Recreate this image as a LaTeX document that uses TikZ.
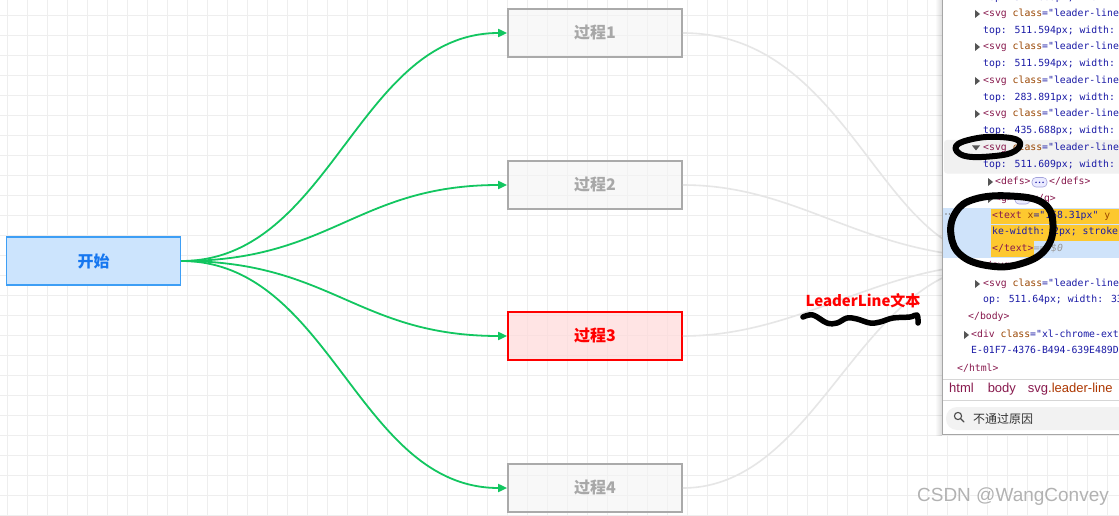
\documentclass[tikz,border=0pt]{standalone}
\usepackage{fontspec}
\setmainfont{Liberation Sans}
\newfontfamily\cjk{Noto Sans CJK SC}
\newfontfamily\mono{DejaVu Sans Mono}
\usetikzlibrary{arrows.meta}
\definecolor{gridc}{HTML}{EEEEEE}
\definecolor{startfill}{HTML}{CCE4FD}
\definecolor{startborder}{HTML}{3D9EF5}
\definecolor{starttext}{HTML}{1677F0}
\definecolor{grayfill}{HTML}{F4F4F4}
\definecolor{grayborder}{HTML}{AAAAAA}
\definecolor{graytext}{HTML}{A8A8A8}
\definecolor{redfill}{HTML}{FFD9D9}
\definecolor{redc}{HTML}{FF0000}
\definecolor{greenc}{HTML}{12C660}
\definecolor{lightc}{HTML}{E6E6E6}
\definecolor{tagc}{HTML}{881A4E}
\definecolor{attrc}{HTML}{994500}
\definecolor{valc}{HTML}{1A1AA6}
\definecolor{selblue}{HTML}{CFE3FA}
\definecolor{selyellow}{HTML}{FDC82F}
\definecolor{rowgray}{HTML}{F1F1F1}
\definecolor{tric}{HTML}{555555}
\newcommand\ctag[1]{\textcolor{tagc}{#1}}
\newcommand\cattr[1]{\textcolor{attrc}{#1}}
\newcommand\cval[1]{\textcolor{valc}{#1}}
\newcommand\svgrow{\ctag{<svg} \cattr{class}\cval{="leader-line}}
\newcommand\rtri[2]{\fill[tric] (#1,#2-4) -- (#1+5,#2) -- (#1,#2+4) -- cycle;}
\newcommand\dtri[2]{\fill[tric] (#1,#2-2.5) -- (#1+8,#2-2.5) -- (#1+4,#2+2.5) -- cycle;}
\begin{document}
\begin{tikzpicture}[x=1pt,y=-1pt,
  gridline/.style={draw=gridc, line width=0.8pt},
  box/.style={draw, line width=1.7pt, minimum width=174pt, minimum height=47.5pt, inner sep=0pt,
    font=\cjk\bfseries\fontsize{16}{18}\selectfont},
  startbox/.style={box, draw=startborder, fill=startfill, text=starttext},
  graybox/.style={box, draw=grayborder, fill=grayfill, fill opacity=0.6, text opacity=1, text=graytext},
  redbox/.style={box, draw=redc, fill=redfill, fill opacity=0.7, text opacity=1, text=redc},
  greenline/.style={draw=greenc, line width=1.8pt, -{Triangle[length=9pt,width=8pt]}},
  lightline/.style={draw=lightc, line width=1.6pt},
  code/.style={anchor=west, inner sep=0pt, text height=7pt, text depth=2pt, font=\mono\fontsize{9.8}{12}\selectfont},
  scribble/.style={draw=black, line width=6pt, line cap=round, line join=round},
  pill/.style={draw=valc!40, fill=blue!8, rounded corners=4pt, line width=0.6pt}
]
\useasboundingbox (0,0) rectangle (1119,516);
\fill[white] (0,0) rectangle (1119,516);
% grid
\foreach \x in {7,27,...,1119} \draw[gridline] (\x,0) -- (\x,516);
\foreach \y in {15,35,...,516} \draw[gridline] (0,\y) -- (1119,\y);

% nodes
\node[startbox] (start) at (93.5,261) {开始};
\node[graybox] (p1) at (595,33) {过程1};
\node[graybox] (p2) at (595,185) {过程2};
\node[redbox]  (p3) at (595,336) {过程3};
\node[graybox] (p4) at (595,488) {过程4};

% light curves towards the devtools panel
\coordinate (e1) at (1000,258);
\coordinate (e2) at (1000,264);
\draw[lightline] (p1.east) .. controls (850,33) and (880,258) .. (e1);
\draw[lightline] (p2.east) .. controls (800,185) and (860,255) .. (e1);
\draw[lightline] (p3.east) .. controls (800,336) and (880,264) .. (e2);
\draw[lightline] (p4.east) .. controls (820,488) and (860,264) .. (e2);

% green curves
\foreach \p in {p1,p2,p3,p4}
  \draw[greenline] (start.east) .. controls +(150,0) and +(-150,0) .. (\p.west);

% label and scribble
\node[text=redc, font=\cjk\bfseries\fontsize{15}{17}\selectfont, inner sep=0pt] (lbl) at (863,301) {LeaderLine文本};
\draw[scribble, line width=5.5pt] plot[smooth, tension=0.6] coordinates {(803,317) (813,315) (827,323) (837,323) (847,318) (857,319) (870,323) (880,322) (893,318) (910,317) (917,315) (918,323)};

% devtools panel
\foreach \i in {1,...,6} \fill[black, opacity=0.02] (942-\i,0) rectangle (942,435.5);
\begin{scope}
\fill[white] (942,0) rectangle (1119,434);
\clip (942,0) rectangle (1119,434);
\fill[rowgray, rounded corners=3pt] (944,140) rectangle (1130,173.5);
\fill[selblue] (943,208) rectangle (1119,258);
\fill[selyellow] (991,208.5) rectangle (1119,224);
\fill[selyellow] (991,224.5) rectangle (1119,240.5);
\fill[selyellow] (991,241) rectangle (1034,257);
\node[code] (r0) at (983,-2) {\cval{top: 511.609px; width:}};
\rtri{975}{14}  \node[code] (r1) at (983,14) {\svgrow};
\node[code] (r2) at (983,31) {\cval{top: 511.594px; width:}};
\rtri{975}{47}  \node[code] (r3) at (983,47) {\svgrow};
\node[code] (r4) at (983,64) {\cval{top: 511.594px; width:}};
\rtri{975}{81}  \node[code] (r5) at (983,81) {\svgrow};
\node[code] (r6) at (983,98) {\cval{top: 283.891px; width:}};
\rtri{975}{114} \node[code] (r7) at (983,114) {\svgrow};
\node[code] (r8) at (983,131) {\cval{top: 435.688px; width:}};
\dtri{972}{148} \node[code] (r9) at (983,148) {\svgrow};
\node[code] (r10) at (983,165) {\cval{top: 511.609px; width:}};
\rtri{988}{182} \node[code] (r11) at (995,182) {\ctag{<defs>}};
\draw[pill] (1032,177.5) rectangle (1047,187);
\foreach \d in {1036,1039.5,1043} \fill[valc] (\d,182.3) circle (0.8);
\node[code] (r11b) at (1049,182) {\ctag{</defs>}};
\rtri{988}{199} \node[code] (r12) at (995,199) {\ctag{<g>}};
\draw[pill] (1015,194.5) rectangle (1030,204);
\node[code] (r12b) at (1032,199) {\ctag{</g>}};
\foreach \d in {946,949.5,953} \fill[gray] (\d,214) circle (0.8);
\node[code] (r13) at (992,216) {\ctag{<text} \cattr{x}\cval{="168.31px"} \cattr{y}};
\node[code] (r14) at (992,232) {\cval{ke-width: 2px; stroke}};
\node[code] (r15) at (992,249) {\ctag{</text>}\textcolor{gray!80}{ == \textit{\$0}}};
\node[code] (r16) at (980,266) {\ctag{</svg>}};
\rtri{975}{284} \node[code] (r17) at (983,284) {\svgrow};
\node[code] (r18) at (983,300) {\cval{op: 511.64px; width: 33}};
\node[code] (r19) at (968,317) {\ctag{</body>}};
\rtri{964}{335} \node[code] (r20) at (971,335) {\ctag{<div} \cattr{class}\cval{="xl-chrome-ext}};
\node[code] (r21) at (971,351) {\cval{E-01F7-4376-B494-639E489D}};
\node[code] (r22) at (957,369) {\ctag{</html>}};
\draw[gridc!90!black, line width=0.7pt] (942,379) -- (1119,379);
\node[anchor=west, inner sep=0pt, font=\fontsize{13}{15}\selectfont] (bc) at (949,389)
  {\textcolor{tagc}{html}\hspace{14pt}\textcolor{tagc}{body}\hspace{12pt}\textcolor{tagc}{svg}\textcolor{attrc!80!red}{.leader-line}};
\draw[gridc!90!black, line width=0.7pt] (942,400) -- (1119,400);
\fill[black!5, rounded corners=11pt] (946,407) rectangle (1135,430);
\draw[black!70, line width=1.1pt] (958,416) circle (3.6);
\draw[black!70, line width=1.3pt, line cap=round] (960.8,418.8) -- (964,422);
\node[anchor=west, inner sep=0pt, text=black!80, font=\cjk\fontsize{12}{14}\selectfont] (search) at (973,418.5) {不通过原因};
\end{scope}
\draw[black!35, line width=0.8pt] (942,0) -- (942,434.5) -- (1119,434.5);

% scribbles on panel
\draw[scribble] plot[smooth cycle, tension=0.7] coordinates {(956,146) (975,138.5) (1000,137) (1019,141) (1015,151) (995,156) (965,156)};
\draw[scribble, line width=7pt] plot[smooth cycle, tension=0.7] coordinates {(975,199) (1010,196) (1043,203) (1053,225) (1045,250) (1020,264) (990,266) (962,256) (951,235) (956,212)};

% watermark
\node[text=white, font=\fontsize{19}{22}\selectfont, inner sep=0pt] at (1013.8,497.8) {CSDN @WangConvey};
\node[text=black!30, font=\fontsize{19}{22}\selectfont, inner sep=0pt] (wm) at (1013,497) {CSDN @WangConvey};
\end{tikzpicture}
\end{document}
